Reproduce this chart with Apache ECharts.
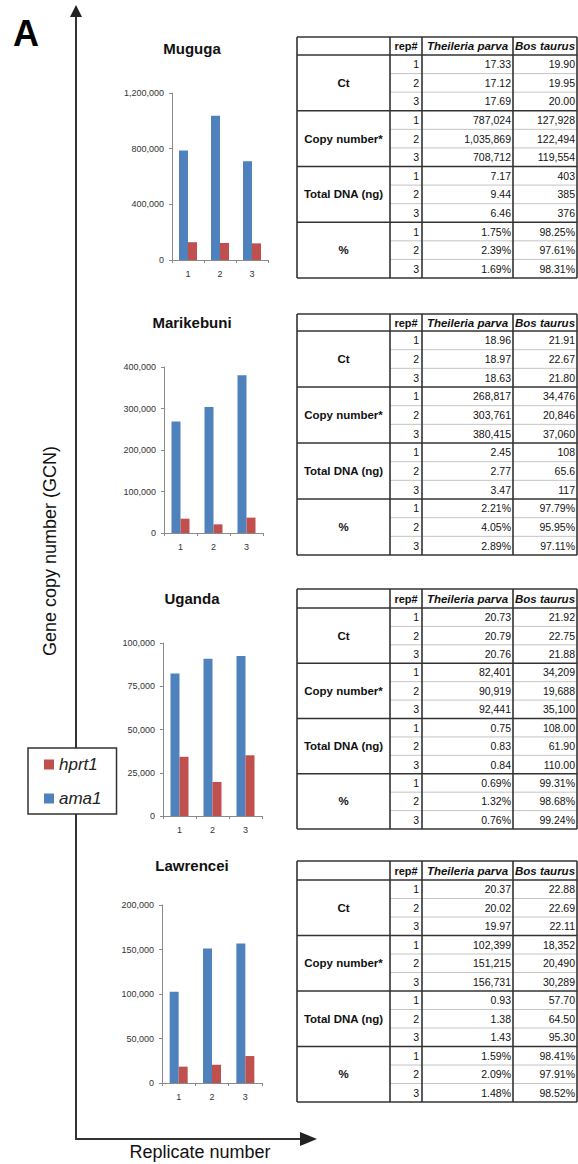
<!DOCTYPE html>
<html><head><meta charset="utf-8">
<script src="https://cdn.jsdelivr.net/npm/echarts@6/dist/echarts.min.js"></script>
<style>html,body{margin:0;padding:0;background:#fff}#c{width:578px;height:1164px}</style>
</head><body><div id="c"></div>
<script>
// ---------------- data ----------------
const sites = ['Muguga', 'Marikebuni', 'Uganda', 'Lawrencei'];
const replicates = ['1', '2', '3'];
const ama1Copies = [[787024, 1035869, 708712], [268817, 303761, 380415], [82401, 90919, 92441], [102399, 151215, 156731]];
const hprt1Copies = [[127928, 122494, 119554], [34476, 20846, 37060], [34209, 19688, 35100], [18352, 20490, 30289]];
const yMax = [1200000, 400000, 100000, 200000];
const yInterval = [400000, 100000, 25000, 50000];
const ctParva = [['17.33', '17.12', '17.69'], ['18.96', '18.97', '18.63'], ['20.73', '20.79', '20.76'], ['20.37', '20.02', '19.97']];
const ctBos = [['19.90', '19.95', '20.00'], ['21.91', '22.67', '21.80'], ['21.92', '22.75', '21.88'], ['22.88', '22.69', '22.11']];
const dnaParva = [['7.17', '9.44', '6.46'], ['2.45', '2.77', '3.47'], ['0.75', '0.83', '0.84'], ['0.93', '1.38', '1.43']];
const dnaBos = [['403', '385', '376'], ['108', '65.6', '117'], ['108.00', '61.90', '110.00'], ['57.70', '64.50', '95.30']];
const pctParva = [['1.75%', '2.39%', '1.69%'], ['2.21%', '4.05%', '2.89%'], ['0.69%', '1.32%', '0.76%'], ['1.59%', '2.09%', '1.48%']];
const pctBos = [['98.25%', '97.61%', '98.31%'], ['97.79%', '95.95%', '97.11%'], ['99.31%', '98.68%', '99.24%'], ['98.41%', '97.91%', '98.52%']];
const rowLabels = ['Ct', 'Copy number*', 'Total DNA (ng)', '%'];
const colHeaders = ['rep#', 'Theileria parva', 'Bos taurus'];
const seriesNames = ['ama1', 'hprt1'];
const axisTitles = ['Gene copy number (GCN)', 'Replicate number'];
const panelLetter = 'A';

// ---------------- layout ----------------
const FONT = '"Liberation Sans", Arial, sans-serif';
const BLUE = '#4F81BD', RED = '#C0504D';
const grids = [
  { left: 172, top: 93, width: 96, height: 167 },
  { left: 164, top: 367, width: 99, height: 166 },
  { left: 163, top: 643, width: 99, height: 173 },
  { left: 162, top: 905, width: 100, height: 178 }
];
const titleY = [48, 322, 598, 865];
const tableBoxes = [
  { top: 37, head: 55, bottom: 278 },
  { top: 314, head: 331, bottom: 555 },
  { top: 589, head: 608, bottom: 829 },
  { top: 861, head: 880, bottom: 1102 }
];
const colX = [297, 390, 422, 513, 577];

const fmt = v => v.toLocaleString('en-US');

function txt(x, y, s, font, align, fill, extra) {
  return Object.assign({
    type: 'text', x: x, y: y, z: 10,
    style: { text: s, font: font, textAlign: align, textVerticalAlign: 'middle', align: align, verticalAlign: 'middle', fill: fill || '#111' }
  }, extra || {});
}
function ln(x1, y1, x2, y2, stroke, w) {
  return { type: 'line', z: 5, shape: { x1: x1, y1: y1, x2: x2, y2: y2 }, style: { stroke: stroke, lineWidth: w } };
}

const elements = [];
// panel letter
elements.push(txt(26, 33, panelLetter, 'bold 36px ' + FONT, 'center', '#000'));
// big axes with arrows
elements.push(Object.assign(ln(76, 1139, 76, 14, '#333', 2), { z: 1 }));
elements.push(Object.assign(ln(75, 1139, 302, 1139, '#333', 2), { z: 1 }));
elements.push({ type: 'polygon', z: 1, shape: { points: [[76, 5], [70, 17], [82, 17]] }, style: { fill: '#222' } });
elements.push({ type: 'polygon', z: 1, shape: { points: [[317, 1139], [300, 1132], [300, 1146]] }, style: { fill: '#222' } });
elements.push(txt(50, 551, axisTitles[0], '18px ' + FONT, 'center', '#111', { rotation: Math.PI / 2 }));
elements.push(txt(200, 1152, axisTitles[1], '18px ' + FONT, 'center', '#111'));

// chart titles
sites.forEach((s, i) => elements.push(txt(192, titleY[i], s, 'bold 15px ' + FONT, 'center', '#111')));

// tables
const LBL = 'bold 11.5px ' + FONT;
const NUM = '10.5px ' + FONT;
const HDR = 'italic bold 11.5px ' + FONT;
for (let t = 0; t < 4; t++) {
  const b = tableBoxes[t];
  const rh = (b.bottom - b.head) / 12;
  for (let r = 1; r < 12; r++) {
    if (r % 3 === 0) continue;
    const y = b.head + r * rh;
    elements.push(ln(colX[1], y, colX[4], y, '#b5b5b5', 0.8));
  }
  elements.push(ln(colX[0], b.top, colX[4], b.top, '#333', 1.6));
  for (let g = 0; g <= 4; g++) {
    const y = b.head + g * 3 * rh;
    elements.push(ln(colX[0], y, colX[4], y, '#333', 1.6));
  }
  colX.forEach(x => elements.push(ln(x, b.top, x, b.bottom, '#333', 1.6)));
  const hy = (b.top + b.head) / 2;
  elements.push(txt((colX[1] + colX[2]) / 2, hy, colHeaders[0], 'bold 11px ' + FONT, 'center'));
  elements.push(txt((colX[2] + colX[3]) / 2, hy, colHeaders[1], HDR, 'center'));
  elements.push(txt((colX[3] + colX[4]) / 2, hy, colHeaders[2], HDR, 'center'));
  const groups = [
    [ctParva[t], ctBos[t]],
    [ama1Copies[t].map(fmt), hprt1Copies[t].map(fmt)],
    [dnaParva[t], dnaBos[t]],
    [pctParva[t], pctBos[t]]
  ];
  groups.forEach((gv, g) => {
    const gy0 = b.head + g * 3 * rh;
    elements.push(txt((colX[0] + colX[1]) / 2, gy0 + 1.5 * rh, rowLabels[g], LBL, 'center'));
    for (let i = 0; i < 3; i++) {
      const cy = gy0 + (i + 0.5) * rh;
      elements.push(txt(colX[2] - 3, cy, replicates[i], NUM, 'right'));
      elements.push(txt(colX[3] - 2, cy, gv[0][i], NUM, 'right'));
      elements.push(txt(colX[4] - 2, cy, gv[1][i], NUM, 'right'));
    }
  });
}

// ---------------- chart ----------------
const chart = echarts.init(document.getElementById('c'), null, { renderer: 'svg', width: 578, height: 1164 });
const axisColor = '#8a8a8a';
const option = {
  animation: false,
  backgroundColor: '#fff',
  legend: {
    orient: 'vertical', left: 28, top: 748, z: 20,
    itemWidth: 10, itemHeight: 10, itemGap: 17,
    padding: [8, 15, 7, 16],
    borderColor: '#333', borderWidth: 1.5, borderRadius: 0, backgroundColor: '#fff',
    selectedMode: false,
    textStyle: { fontSize: 17, fontStyle: 'italic', color: '#222', fontFamily: FONT },
    data: [{ name: seriesNames[1], icon: 'rect' }, { name: seriesNames[0], icon: 'rect' }]
  },
  grid: grids.map(g => Object.assign({ containLabel: false }, g)),
  xAxis: grids.map((g, i) => ({
    type: 'category', gridIndex: i, data: replicates,
    axisLine: { show: true, lineStyle: { color: axisColor, width: 1 } },
    axisTick: { show: true, length: 3, inside: false, alignWithLabel: false, lineStyle: { color: axisColor } },
    axisLabel: { fontSize: 9, color: '#333', margin: 9, fontFamily: FONT },
    splitLine: { show: false }
  })),
  yAxis: grids.map((g, i) => ({
    type: 'value', gridIndex: i, min: 0, max: yMax[i], interval: yInterval[i],
    axisLine: { show: true, lineStyle: { color: axisColor, width: 1 } },
    axisTick: { show: true, length: 3, inside: false, lineStyle: { color: axisColor } },
    axisLabel: { fontSize: 9, color: '#333', margin: 8, fontFamily: FONT, formatter: v => fmt(v) },
    splitLine: { show: false }
  })),
  series: [],
  graphic: { elements: elements }
};
for (let i = 0; i < 4; i++) {
  option.series.push({
    type: 'bar', name: seriesNames[0], xAxisIndex: i, yAxisIndex: i,
    data: ama1Copies[i], barWidth: 9, barGap: '0%', itemStyle: { color: BLUE }
  });
  option.series.push({
    type: 'bar', name: seriesNames[1], xAxisIndex: i, yAxisIndex: i,
    data: hprt1Copies[i], barWidth: 9, barGap: '0%', itemStyle: { color: RED }
  });
}
chart.setOption(option);
</script>
</body></html>
